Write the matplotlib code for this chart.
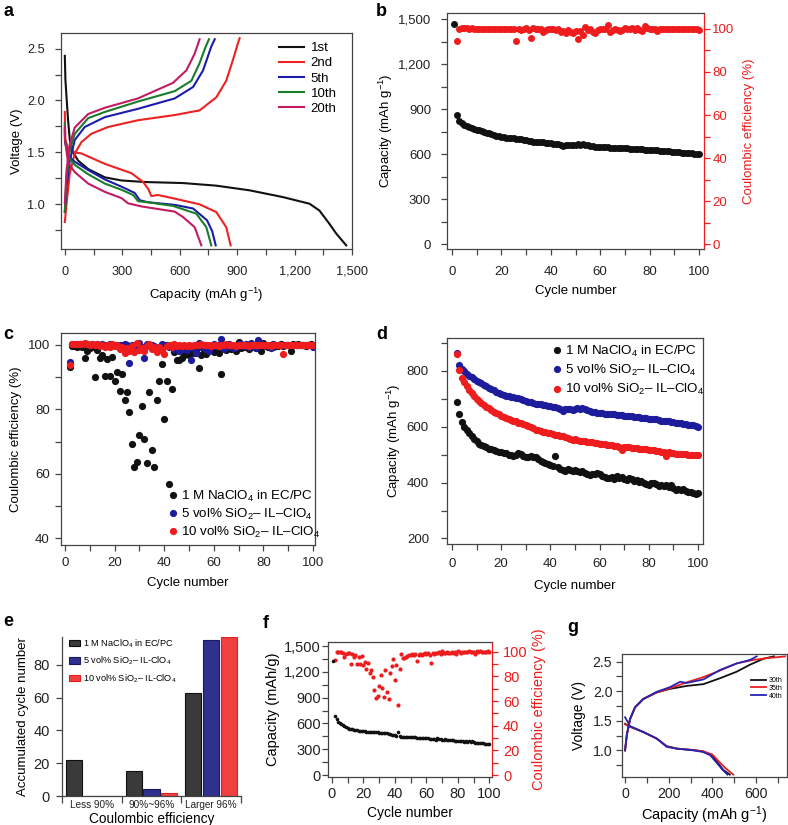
import matplotlib
matplotlib.use('Agg')
import matplotlib.pyplot as plt
from matplotlib.ticker import MultipleLocator, FuncFormatter, FixedLocator

plt.rcParams['font.family'] = ['Liberation Sans', 'DejaVu Sans']
plt.rcParams['mathtext.fontset'] = 'custom'
plt.rcParams['mathtext.rm'] = 'Liberation Sans'
plt.rcParams['mathtext.it'] = 'Liberation Sans:italic'
plt.rcParams['mathtext.bf'] = 'Liberation Sans:bold'

# ---------------- data ----------------
# panel a: voltage profiles (capacity mAh/g, voltage V)
a1_dis_cap = [0, 3, 9, 17, 26, 43, 70, 122, 209, 296, 417, 617, 791, 965, 1139, 1278, 1330, 1383, 1417, 1470]
a1_dis_v = [2.43, 2.2, 2.03, 1.81, 1.62, 1.50, 1.42, 1.34, 1.26, 1.23, 1.215, 1.205, 1.18, 1.135, 1.07, 1.006, 0.94, 0.81, 0.72, 0.605]
a2_dis_cap = [0, 1, 3, 17, 52, 87, 209, 348, 409, 435, 452, 487, 574, 704, 791, 843, 866]
a2_dis_v = [1.89, 1.75, 1.62, 1.54, 1.50, 1.49, 1.39, 1.30, 1.215, 1.15, 1.08, 1.09, 1.055, 1.0, 0.926, 0.78, 0.605]
a2_chg_cap = [0, 9, 26, 52, 87, 139, 226, 382, 574, 704, 791, 843, 878, 904, 913]
a2_chg_v = [0.83, 1.007, 1.30, 1.49, 1.60, 1.68, 1.745, 1.81, 1.86, 1.905, 2.03, 2.19, 2.39, 2.55, 2.60]
a5_dis_cap = [0, 1, 17, 52, 122, 209, 296, 365, 391, 435, 574, 670, 743, 770, 788]
a5_dis_v = [1.72, 1.6, 1.47, 1.41, 1.33, 1.24, 1.17, 1.11, 1.04, 1.02, 0.995, 0.96, 0.846, 0.74, 0.605]
a5_chg_cap = [0, 9, 26, 52, 104, 209, 382, 574, 670, 722, 765, 783]
a5_chg_v = [0.926, 1.17, 1.42, 1.62, 1.745, 1.84, 1.92, 2.02, 2.13, 2.29, 2.52, 2.59]
a10_dis_cap = [0, 1, 17, 52, 122, 209, 296, 357, 383, 435, 565, 687, 739, 765]
a10_dis_v = [1.78, 1.62, 1.46, 1.38, 1.29, 1.20, 1.14, 1.09, 1.03, 1.02, 0.985, 0.91, 0.78, 0.605]
a10_chg_cap = [0, 9, 26, 52, 122, 209, 382, 574, 661, 704, 736, 753]
a10_chg_v = [0.93, 1.26, 1.52, 1.68, 1.83, 1.89, 1.99, 2.09, 2.19, 2.36, 2.52, 2.59]
a20_dis_cap = [0, 1, 17, 52, 122, 209, 296, 330, 400, 574, 617, 678, 713]
a20_dis_v = [1.75, 1.62, 1.40, 1.31, 1.20, 1.12, 1.06, 1.01, 0.98, 0.93, 0.878, 0.78, 0.605]
a20_chg_cap = [0, 9, 26, 52, 122, 209, 382, 565, 635, 678, 704]
a20_chg_v = [1.01, 1.33, 1.58, 1.74, 1.87, 1.93, 2.02, 2.17, 2.29, 2.45, 2.59]
a_labels = ['1st', '2nd', '5th', '10th', '20th']

cycles = list(range(1, 101))
cycles2 = list(range(2, 101))

# capacity of 5 vol% SiO2-IL-ClO4 (cycles 1..100)
cap5 = [1470, 865, 820, 808, 798, 790, 783, 777, 771, 765,
        760, 755, 750, 745, 740, 735, 730, 725, 720, 716,
        713, 711, 710, 708, 706, 704, 702, 699, 696, 693,
        690, 688, 685, 683, 680, 680, 679, 678, 676, 674,
        672, 670, 668, 665, 658, 663, 664, 662, 661, 664,
        666, 665, 667, 664, 660, 656, 654, 652, 650, 649,
        648, 647, 646, 645, 645, 644, 643, 642, 641, 640,
        639, 638, 637, 636, 635, 634, 633, 632, 630, 629,
        628, 627, 628, 625, 622, 621, 620, 619, 618, 616,
        615, 613, 612, 611, 609, 608, 606, 605, 603, 600]
# capacity of 10 vol% (cycles 2..100)
cap10 = [860, 805, 775, 760, 745, 733, 720, 710, 700,
         693, 686, 679, 672, 666, 660, 654, 649, 644, 640,
         636, 632, 628, 625, 622, 619, 615, 612, 609, 606,
         602, 598, 594, 590, 588, 585, 582, 580, 578, 576,
         574, 572, 570, 568, 566, 562, 558, 555, 553, 555,
         552, 550, 549, 548, 547, 546, 545, 543, 542, 540,
         539, 538, 536, 535, 534, 532, 530, 529, 518, 527,
         526, 526, 525, 524, 523, 522, 521, 520, 519, 518,
         517, 516, 514, 512, 511, 510, 495, 508, 506, 505,
         504, 503, 502, 502, 501, 500, 500, 499, 498, 498]
# capacity of 1 M NaClO4 in EC/PC (cycles 1..100)
cap1M = [1330, 688, 646, 616, 600, 588, 576, 566, 556, 548,
         540, 534, 530, 526, 522, 519, 516, 513, 511, 509,
         507, 505, 500, 498, 497, 500, 505, 504, 497, 492,
         490, 494, 493, 490, 485, 478, 475, 470, 466, 462,
         458, 496, 455, 448, 446, 443, 447, 444, 441, 445,
         440, 437, 442, 436, 430, 428, 432, 430, 436, 432,
         425, 420, 418, 415, 420, 413, 425, 418, 420, 412,
         410, 415, 412, 405, 408, 403, 407, 400, 396, 392,
         398, 400, 394, 388, 390, 386, 392, 384, 390, 380,
         375, 377, 373, 376, 370, 368, 365, 362, 360, 362]
# coulombic efficiencies (cycles 2..100)
ce5 = [94.6, 100.2, 100.4, 100.3, 100.3, 100.2, 100.3, 100.2, 100.1,
       100.2, 100.0, 100.2, 100.1, 100.2, 100.1, 100.0, 100.2, 100.1, 100.0,
       100.1, 100.0, 100.1, 100.2, 100.0, 94.4, 100.1, 99.6, 100.0, 100.5,
       99.5, 96.0, 100.3, 100.1, 100.0, 99.8, 98.5, 99.3, 100.2, 100.0,
       100.1, 99.4, 100.0, 98.6, 99.0, 98.2, 99.6, 98.8, 98.3, 99.2,
       95.2, 99.0, 97.4, 100.7, 99.5, 100.1, 98.8, 98.0, 99.6, 100.2,
       99.8, 100.0, 101.7, 98.7, 99.7, 100.2, 99.3, 99.0, 99.5, 100.3,
       100.2, 99.8, 100.4, 99.4, 100.5, 99.6, 98.9, 101.5, 100.3, 99.9,
       100.1, 99.8, 99.0, 100.2, 100.0, 99.9, 100.1, 100.0, 99.9, 100.0,
       100.1, 100.0, 100.1, 100.0, 100.0, 100.1, 100.0, 100.0, 100.0, 99.5]
ce10 = [93.8, 100.3, 100.4, 100.3, 100.2, 100.3, 100.5, 100.2, 100.1,
        100.3, 100.0, 100.2, 99.8, 100.1, 99.5, 100.0, 99.2, 100.2, 99.6,
        100.0, 98.8, 99.5, 97.5, 99.0, 98.2, 99.8, 97.8, 100.6, 98.5,
        99.0, 98.0, 99.6, 100.2, 98.6, 99.2, 97.9, 99.5, 98.4, 97.1,
        99.6, 100.0, 99.5, 100.3, 99.8, 100.0, 99.6, 100.1, 99.8, 100.0,
        99.7, 100.1, 99.9, 100.0, 100.2, 99.9, 100.0, 100.1, 99.8, 100.0,
        100.1, 99.8, 100.0, 99.9, 100.2, 100.0, 99.9, 100.1, 99.7, 100.0,
        99.9, 100.1, 100.0, 99.8, 100.0, 100.1, 99.9, 100.0, 100.0, 99.9,
        100.1, 100.0, 99.8, 100.0, 100.0, 99.9, 100.0, 97.1, 100.1, 100.0,
        99.9, 100.0, 100.1, 100.0, 100.0, 100.0, 100.0, 99.9, 100.0, 100.0]
ce1M = [93.0, 99.6, 99.8, 99.5, 99.7, 99.2, 96.0, 98.0, 99.0,
        99.3, 89.9, 98.5, 96.0, 97.0, 90.4, 95.7, 90.4, 96.4, 88.9,
        91.5, 85.7, 90.9, 82.9, 85.5, 79.3, 69.3, 62.2, 63.8, 71.9,
        81.1, 70.8, 63.5, 85.5, 67.4, 62.0, 82.9, 88.8, 94.0, 77.0,
        88.9, 56.9, 86.3, 97.9, 95.3, 95.3, 95.9, 96.9, 97.5, 97.0,
        98.0, 97.5, 98.2, 92.7, 97.0, 98.3, 97.2, 98.5, 99.0, 97.8,
        98.6, 97.5, 91.0, 99.0, 98.4, 99.2, 98.7, 99.5, 98.0, 100.8,
        99.0, 99.3, 99.5, 98.8, 99.2, 99.6, 99.0, 99.4, 98.0, 100.5,
        99.8, 99.2, 100.0, 99.5, 99.7, 99.8, 100.3, 99.6, 99.9, 100.1,
        98.0, 100.4, 99.9, 100.3, 100.0, 100.1, 99.8, 100.0, 100.2, 100.0]

series_labels = [r'1 M NaClO$_4$ in EC/PC',
                 r'5 vol% SiO$_2$– IL–ClO$_4$',
                 r'10 vol% SiO$_2$– IL–ClO$_4$']
e_labels = [r'1 M NaClO$_4$ in EC/PC',
            r'5 vol% SiO$_2$– IL-ClO$_4$',
            r'10 vol% SiO$_2$– IL-ClO$_4$']

# panel e
e_categories = ['Less 90%', '90%~96%', 'Larger 96%']
e_1M = [22, 15, 63]
e_5 = [0.3, 4, 95]
e_10 = [0.3, 2, 97]

# panel g
g30_dis_cap = [0, 23, 84, 145, 191, 237, 313, 359, 397, 427, 450, 480]
g30_dis_v = [1.45, 1.40, 1.31, 1.2, 1.07, 1.03, 1.006, 0.98, 0.92, 0.78, 0.67, 0.59]
g35_dis_cap = [0, 23, 84, 145, 191, 237, 313, 359, 400, 433, 460, 496]
g35_dis_v = [1.44, 1.40, 1.31, 1.2, 1.07, 1.03, 1.006, 0.985, 0.93, 0.80, 0.70, 0.59]
g40_dis_cap = [0, 23, 84, 145, 191, 237, 313, 355, 390, 420, 445, 469]
g40_dis_v = [1.56, 1.41, 1.31, 1.2, 1.06, 1.03, 1.0, 0.975, 0.92, 0.79, 0.68, 0.59]
g30_chg_cap = [0, 8, 23, 46, 84, 145, 206, 282, 359, 435, 511, 573, 634, 682]
g30_chg_v = [1.0, 1.26, 1.53, 1.73, 1.87, 1.98, 2.04, 2.09, 2.12, 2.22, 2.33, 2.45, 2.55, 2.59]
g35_chg_cap = [0, 8, 23, 46, 84, 145, 206, 282, 359, 435, 511, 588, 649, 710, 733]
g35_chg_v = [1.0, 1.26, 1.53, 1.73, 1.87, 1.98, 2.05, 2.15, 2.24, 2.35, 2.47, 2.53, 2.56, 2.58, 2.59]
g40_chg_cap = [0, 8, 23, 46, 84, 145, 206, 252, 282, 359, 435, 511, 573, 603]
g40_chg_v = [1.0, 1.26, 1.53, 1.73, 1.87, 1.99, 2.07, 2.16, 2.14, 2.2, 2.36, 2.47, 2.53, 2.59]
g_labels = ['30th', '35th', '40th']

# ---------------- styling ----------------
W, H = 788, 825
fig = plt.figure(figsize=(W / 100, H / 100), dpi=100)
TICK = 9.5
LAB = 9.5
SPC = '#444444'
RED = '#ee1c1c'
BLUE = '#1c1c9c'
BLK = '#111111'


def ax_at(l, t, r, b):
    return fig.add_axes([l / W, 1 - b / H, (r - l) / W, (b - t) / H])


def style(ax, right=True, top=True, ts=TICK, xpad=3, ypad=3):
    for s in ax.spines.values():
        s.set_color(SPC)
        s.set_linewidth(0.9)
    ax.spines['right'].set_visible(right)
    ax.spines['top'].set_visible(top)
    ax.tick_params(which='both', direction='out', colors=SPC, labelcolor='#222222',
                   labelsize=ts, width=0.9, length=4)
    ax.tick_params(axis='x', which='major', pad=xpad)
    ax.tick_params(axis='y', which='major', pad=ypad)
    ax.tick_params(top=False, right=False)


def red_axis(ax2, ts=TICK, pad=2):
    for s in ['left', 'top', 'bottom']:
        ax2.spines[s].set_visible(False)
    ax2.spines['right'].set_color(RED)
    ax2.spines['right'].set_linewidth(0.9)
    ax2.yaxis.set_major_locator(MultipleLocator(20))
    ax2.yaxis.set_minor_locator(MultipleLocator(10))
    ax2.tick_params(which='both', direction='out', colors=RED, labelcolor=RED, labelsize=ts,
                    width=0.9, length=4, pad=pad)


comma = FuncFormatter(lambda v, p: f'{int(round(v)):,}')
onedec = FuncFormatter(lambda v, p: f'{v:.1f}')


def plabel(x, y, s):
    fig.text(x / W, 1 - y / H, s, fontsize=13, fontweight='bold', ha='left', va='center')


# ---------------- a ----------------
ax = ax_at(61, 33, 352, 249)
style(ax, ts=9.2, xpad=8, ypad=7.5)
a_cols = [BLK, '#ee2222', '#1c1caa', '#1a7d2a', '#c41a62']
ax.plot(a1_dis_cap, a1_dis_v, color=a_cols[0], lw=1.5, label=a_labels[0])
ax.plot(a2_dis_cap, a2_dis_v, color=a_cols[1], lw=1.5, label=a_labels[1])
ax.plot(a2_chg_cap, a2_chg_v, color=a_cols[1], lw=1.5)
ax.plot(a5_dis_cap, a5_dis_v, color=a_cols[2], lw=1.5, label=a_labels[2])
ax.plot(a5_chg_cap, a5_chg_v, color=a_cols[2], lw=1.5)
ax.plot(a10_dis_cap, a10_dis_v, color=a_cols[3], lw=1.5, label=a_labels[3])
ax.plot(a10_chg_cap, a10_chg_v, color=a_cols[3], lw=1.5)
ax.plot(a20_dis_cap, a20_dis_v, color=a_cols[4], lw=1.5, label=a_labels[4])
ax.plot(a20_chg_cap, a20_chg_v, color=a_cols[4], lw=1.5)
ax.set_xlim(-20, 1500)
ax.set_ylim(0.57, 2.65)
ax.xaxis.set_major_locator(MultipleLocator(300))
ax.xaxis.set_minor_locator(MultipleLocator(150))
ax.xaxis.set_major_formatter(comma)
ax.yaxis.set_major_locator(FixedLocator([1.0, 1.5, 2.0, 2.5]))
ax.yaxis.set_minor_locator(FixedLocator([0.75, 1.25, 1.75, 2.25]))
ax.yaxis.set_major_formatter(onedec)
ax.set_xlabel(r'Capacity (mAh g$^{-1}$)', fontsize=LAB, labelpad=6)
ax.set_ylabel('Voltage (V)', fontsize=LAB, labelpad=3)
ax.legend(loc='upper left', bbox_to_anchor=(279 / W, 1 - 42 / H), bbox_transform=fig.transFigure,
          frameon=False, fontsize=9.5, handlelength=1.9, handletextpad=0.5, labelspacing=0.22,
          borderpad=0, borderaxespad=0)
plabel(3, 12, 'a')

# ---------------- b ----------------
ax = ax_at(447, 13, 704, 249)
style(ax, right=False, xpad=8.5, ypad=7.5)
ax2 = ax.twinx()
ax.plot(cycles, cap5, 'o', color=BLK, ms=5, mec='none', zorder=3)
ax2.plot(cycles2, ce5, 'o', color=RED, ms=5, mec='none')
ax.set_xlim(-2, 102)
ax.set_ylim(-31, 1542)
ax2.set_ylim(-2.2, 107.4)
ax.xaxis.set_major_locator(MultipleLocator(20))
ax.xaxis.set_minor_locator(MultipleLocator(10))
ax.yaxis.set_major_locator(MultipleLocator(300))
ax.yaxis.set_minor_locator(MultipleLocator(150))
ax.yaxis.set_major_formatter(comma)
red_axis(ax2, pad=2)
ax.set_xlabel('Cycle number', fontsize=LAB, labelpad=5)
ax.set_ylabel(r'Capacity (mAh g$^{-1}$)', fontsize=LAB, labelpad=2)
ax2.set_ylabel('Coulombic efficiency (%)', fontsize=LAB, color=RED, labelpad=6)
ax.set_zorder(2)
ax.patch.set_visible(False)
plabel(376, 12, 'b')

# ---------------- c ----------------
ax = ax_at(61, 333, 315, 545)
style(ax, xpad=5, ypad=4)
ax.plot(cycles2, ce1M, 'o', color=BLK, ms=5.2, mec='none', label=series_labels[0])
ax.plot(cycles2, ce5, 'o', color=BLUE, ms=5.2, mec='none', label=series_labels[1])
ax.plot(cycles2, ce10, 'o', color=RED, ms=5.2, mec='none', label=series_labels[2])
ax.set_xlim(-1.6, 100.8)
ax.set_ylim(37.9, 103.7)
ax.xaxis.set_major_locator(MultipleLocator(20))
ax.xaxis.set_minor_locator(MultipleLocator(10))
ax.yaxis.set_major_locator(MultipleLocator(20))
ax.yaxis.set_minor_locator(MultipleLocator(10))
ax.set_xlabel('Cycle number', fontsize=LAB, labelpad=5.5)
ax.set_ylabel('Coulombic efficiency (%)', fontsize=LAB)
ax.legend(loc='upper left', bbox_to_anchor=(168 / W, 1 - 489 / H), bbox_transform=fig.transFigure,
          frameon=False, fontsize=9.6, handlelength=0.8, handletextpad=0.2, labelspacing=0.22,
          borderpad=0, borderaxespad=0)
plabel(3, 335, 'c')

# ---------------- d ----------------
ax = ax_at(447, 338, 703, 544)
style(ax, xpad=6, ypad=9)
ax.plot(cycles2, cap1M[1:], 'o', color=BLK, ms=5.2, mec='none', label=series_labels[0])
ax.plot(cycles2, cap5[1:], 'o', color=BLUE, ms=5.2, mec='none', label=series_labels[1])
ax.plot(cycles2, cap10, 'o', color=RED, ms=5.2, mec='none', label=series_labels[2])
ax.set_xlim(-2, 102)
ax.set_ylim(180, 918)
ax.xaxis.set_major_locator(MultipleLocator(20))
ax.xaxis.set_minor_locator(MultipleLocator(10))
ax.yaxis.set_major_locator(MultipleLocator(200))
ax.yaxis.set_minor_locator(MultipleLocator(100))
ax.set_xlabel('Cycle number', fontsize=LAB, labelpad=7)
ax.set_ylabel(r'Capacity (mAh g$^{-1}$)', fontsize=LAB, labelpad=3)
ax.legend(loc='upper left', bbox_to_anchor=(552 / W, 1 - 344 / H), bbox_transform=fig.transFigure,
          frameon=False, fontsize=9.6, handlelength=0.8, handletextpad=0.2, labelspacing=0.3,
          borderpad=0, borderaxespad=0)
plabel(376, 335, 'd')

# ---------------- e ----------------
ax = ax_at(62, 637, 241, 796)
style(ax, right=False, top=False, ts=10.5, ypad=5)
xs = [0, 1, 2]
bw = 0.27
ax.bar([x - 0.3 for x in xs], e_1M, width=bw, color='#3a3a3a', edgecolor='#111111', lw=0.8,
       label=e_labels[0])
ax.bar(xs, e_5, width=bw, color='#30308f', edgecolor='#1a1a60', lw=0.8, label=e_labels[1])
ax.bar([x + 0.3 for x in xs], e_10, width=bw, color='#f24040', edgecolor='#e02020', lw=0.8,
       label=e_labels[2])
ax.set_xlim(-0.5, 2.5)
ax.set_ylim(0, 97)
ax.set_xticks(xs)
ax.set_xticklabels(e_categories, fontsize=7.2)
ax.tick_params(axis='x', which='major', length=0, pad=3)
ax.xaxis.set_minor_locator(FixedLocator([-0.5, 0.5, 1.5, 2.5]))
ax.tick_params(axis='x', which='minor', length=5)
ax.yaxis.set_major_locator(MultipleLocator(20))
ax.set_ylabel('Accumulated cycle number', fontsize=9.5, labelpad=3)
ax.set_xlabel('Coulombic efficiency', fontsize=9.8, labelpad=1)
ax.legend(loc='upper left', bbox_to_anchor=(69 / W, 1 - 637 / H), bbox_transform=fig.transFigure,
          frameon=False, fontsize=6.6, handlelength=1.2, handleheight=0.7, handletextpad=0.3,
          labelspacing=0.55, borderpad=0, borderaxespad=0)
plabel(3, 622, 'e')

# ---------------- f ----------------
ax = ax_at(328, 642, 492, 777)
style(ax, right=False, ts=10.5, xpad=3, ypad=1)
ax2 = ax.twinx()
ax.plot(cycles, cap1M, 'o', color=BLK, ms=2.6, mec='none', zorder=3)
ax2.plot(cycles2, ce1M, 'o', color=RED, ms=3, mec='none')
ax.set_xlim(-2.4, 101.6)
ax.set_ylim(-23, 1547)
ax2.set_ylim(-1.6, 107.9)
ax.xaxis.set_major_locator(MultipleLocator(20))
ax.xaxis.set_minor_locator(MultipleLocator(10))
ax.yaxis.set_major_locator(MultipleLocator(300))
ax.yaxis.set_minor_locator(MultipleLocator(150))
ax.yaxis.set_major_formatter(comma)
red_axis(ax2, ts=10.5, pad=4)
ax.set_xlabel('Cycle number', fontsize=10, labelpad=4)
ax.set_ylabel('Capacity (mAh/g)', fontsize=10.5, labelpad=3)
ax2.set_ylabel('Coulombic efficiency (%)', fontsize=10.5, color=RED, labelpad=3)
ax.set_zorder(2)
ax.patch.set_visible(False)
plabel(263, 623, 'f')

# ---------------- g ----------------
ax = ax_at(622, 654, 787, 777)
style(ax, ts=10.2, xpad=3, ypad=3)
g_cols = [BLK, '#e82020', '#2424b4']
ax.plot(g30_dis_cap, g30_dis_v, color=g_cols[0], lw=1.3, label=g_labels[0])
ax.plot(g35_dis_cap, g35_dis_v, color=g_cols[1], lw=1.3, label=g_labels[1])
ax.plot(g40_dis_cap, g40_dis_v, color=g_cols[2], lw=1.3, label=g_labels[2])
ax.plot(g30_chg_cap, g30_chg_v, color=g_cols[0], lw=1.3)
ax.plot(g35_chg_cap, g35_chg_v, color=g_cols[1], lw=1.3)
ax.plot(g40_chg_cap, g40_chg_v, color=g_cols[2], lw=1.3)
ax.set_xlim(-14, 742)
ax.set_ylim(0.55, 2.63)
ax.xaxis.set_major_locator(MultipleLocator(200))
ax.xaxis.set_minor_locator(MultipleLocator(100))
ax.yaxis.set_major_locator(FixedLocator([1.0, 1.5, 2.0, 2.5]))
ax.yaxis.set_minor_locator(FixedLocator([0.75, 1.25, 1.75, 2.25]))
ax.yaxis.set_major_formatter(onedec)
ax.set_xlabel(r'Capacity (mAh g$^{-1}$)', fontsize=10.5, labelpad=3)
ax.set_ylabel('Voltage (V)', fontsize=10, labelpad=5)
ax.legend(loc='upper left', bbox_to_anchor=(751 / W, 1 - 677 / H), bbox_transform=fig.transFigure,
          frameon=False, fontsize=5, handlelength=2.2, handletextpad=0.4, labelspacing=0.12,
          borderpad=0, borderaxespad=0)
plabel(567, 628, 'g')

fig.savefig('out.png', dpi=100)
